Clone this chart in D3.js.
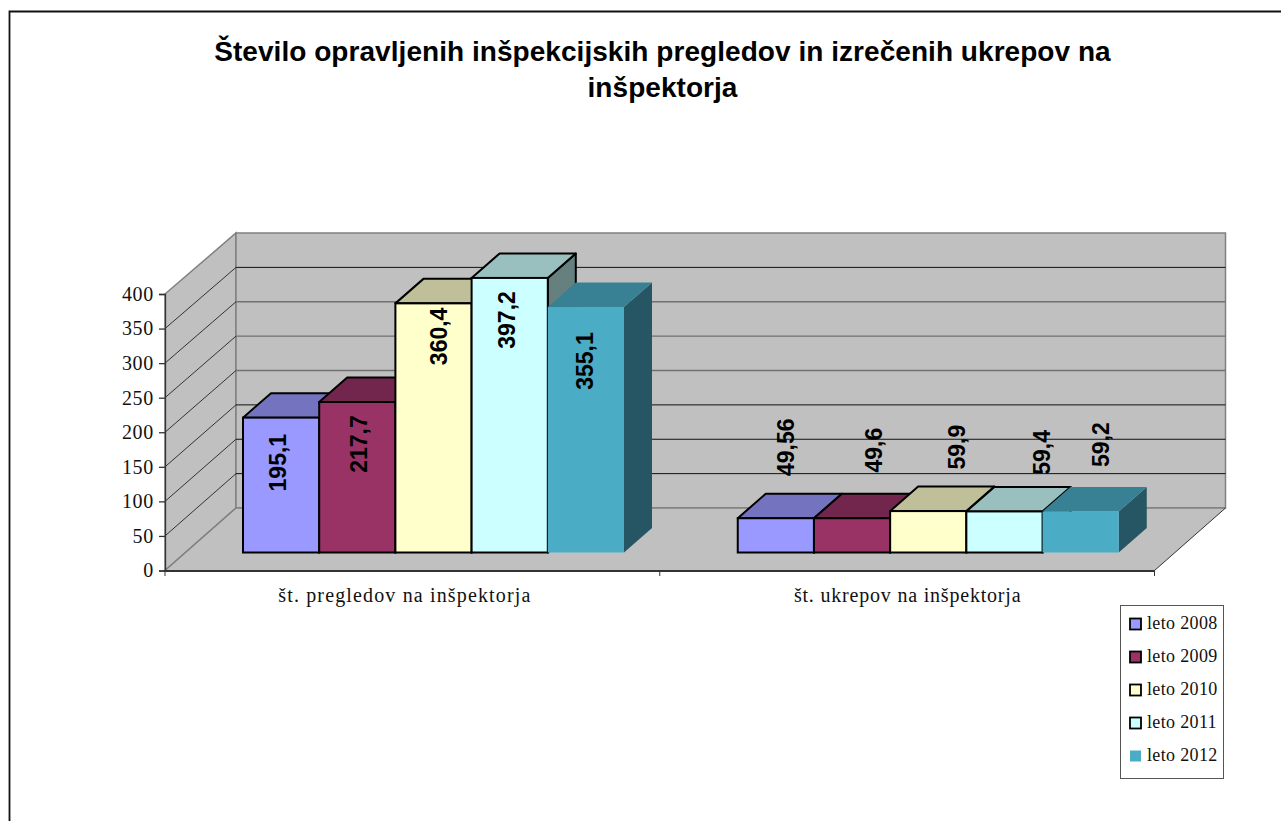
<!DOCTYPE html>
<html><head><meta charset="utf-8">
<script src="https://cdn.jsdelivr.net/npm/d3@7"></script>
<style>html,body{margin:0;padding:0;background:#fff}svg{display:block}</style></head>
<body><div id="c"></div>
<script>
// ---- data ----
const categories = ["št. pregledov na inšpektorja", "št. ukrepov na inšpektorja"];
const seriesNames = ["leto 2008", "leto 2009", "leto 2010", "leto 2011", "leto 2012"];
const pregledi = [195.1, 217.7, 360.4, 397.2, 355.1];
const ukrepi = [49.56, 49.6, 59.9, 59.4, 59.2];
const labelText = [["195,1","217,7","360,4","397,2","355,1"],["49,56","49,6","59,9","59,4","59,2"]];
const yTicks = [0,50,100,150,200,250,300,350,400];
const titleLines = ["Število opravljenih inšpekcijskih pregledov in izrečenih ukrepov na","inšpektorja"];
const colors = ["#9999FF","#993366","#FFFFCC","#CCFFFF","#4BACC6"];

// ---- layout ----
const W=1281,H=821;
const frontLeft=165, frontRight=1154.5, front0=570.5, front400=294;
const backDx=71, back0=508, back400=233;
const barDx=28, barDy=-24.5, barBase=552.5;
const grayGrid=[200,250,300];
// hand-placed data labels in the source chart: centre relative to bar left / bar top
const labelDx=[[35,40,44,35,37],[48,60,67,76,58]];
const labelDy=[[45,42,33,42,54],[-71,-68,-64,-59,-67]];
const catLabelDx=[-7.5,0.5];
const catLabelSpacing=[1.15,0.8];

const svg=d3.select("#c").append("svg").attr("width",W).attr("height",H);
// chart frame: only its top and left edges are inside the picture
svg.append("path").attr("d",`M9.5,${H}V11.5H${W}`).attr("fill","none").attr("stroke","#111").attr("stroke-width",1.8);

const y=d3.scaleLinear().domain([0,400]).range([front0,front400]);
const yBack=d3.scaleLinear().domain([0,400]).range([back0,back400]);
const x0=d3.scaleBand().domain(categories).range([frontLeft,frontRight]);
const x1=d3.scaleBand().domain(seriesNames).range([78,459]);
const pts=a=>a.map(p=>p.join(",")).join(" ");
const bl=frontLeft+backDx, br=frontRight+backDx;

// walls
const g=svg.append("g");
g.append("polygon").attr("fill","#C0C0C0").attr("stroke","#808080").attr("stroke-width",1.5)
  .attr("points",pts([[frontLeft,y(0)],[bl,yBack(0)],[bl,yBack(400)],[frontLeft,y(400)]]));
g.append("polygon").attr("fill","#C0C0C0").attr("stroke","#808080").attr("stroke-width",1.5)
  .attr("points",pts([[bl,yBack(0)],[br,yBack(0)],[br,yBack(400)],[bl,yBack(400)]]));
g.append("polygon").attr("fill","#C0C0C0")
  .attr("points",pts([[frontLeft,y(0)],[bl,yBack(0)],[br,yBack(0)],[frontRight,y(0)]]));
// floor edges
g.append("line").attr("x1",frontLeft).attr("y1",y(0)).attr("x2",bl).attr("y2",yBack(0)).attr("stroke","#808080").attr("stroke-width",1.5);
g.append("line").attr("x1",bl).attr("y1",yBack(0)).attr("x2",br).attr("y2",yBack(0)).attr("stroke","#808080").attr("stroke-width",1.5);
g.append("line").attr("x1",frontRight).attr("y1",y(0)).attr("x2",br).attr("y2",yBack(0)).attr("stroke","#333");

// gridlines
yTicks.filter(t=>t>0&&t<400).forEach(t=>{
  g.append("line").attr("x1",frontLeft).attr("y1",y(t)).attr("x2",bl).attr("y2",yBack(t)).attr("stroke","#222").attr("stroke-width",.9);
  g.append("line").attr("x1",bl).attr("y1",yBack(t)).attr("x2",br).attr("y2",yBack(t))
    .attr("stroke",grayGrid.includes(t)?"#707070":"#111").attr("stroke-width",grayGrid.includes(t)?1.3:1);
});

// axes
const yAxis=d3.axisLeft(y).tickValues(yTicks).tickSize(6).tickPadding(5).tickFormat(d3.format("d"));
const ga=svg.append("g").attr("transform",`translate(${frontLeft},0)`).call(yAxis);
ga.selectAll("path,line").attr("stroke","#333").attr("stroke-width",1.3);
ga.selectAll("text").attr("font-family","'Liberation Serif',serif").attr("font-size",20).attr("letter-spacing",0.7).attr("fill","#111");
const xAxis=d3.axisBottom(x0).tickSize(0).tickPadding(0);
const gx=svg.append("g").attr("transform",`translate(0,${front0})`).call(xAxis);
gx.select("path").attr("stroke","#333").attr("stroke-width",2);
gx.selectAll("text").attr("font-family","'Liberation Serif',serif").attr("font-size",20).attr("letter-spacing",(d,i)=>catLabelSpacing[i]).attr("fill","#111")
  .attr("y",17).attr("dy","0.71em").attr("dx",(d,i)=>catLabelDx[i]);
[frontLeft,(frontLeft+frontRight)/2,frontRight].forEach(v=>svg.append("line").attr("x1",v).attr("x2",v).attr("y1",front0).attr("y2",front0+5.5).attr("stroke","#333"));

// bars
const shade=(c,k)=>{const r=d3.rgb(c);return d3.rgb(r.r*k,r.g*k,r.b*k).formatHex();};
[pregledi,ukrepi].forEach((vals,ci)=>{
  const gb=svg.append("g").attr("transform",`translate(${x0(categories[ci])},0)`);
  vals.forEach((v,i)=>{
    const l=x1(seriesNames[i]), r=l+x1.bandwidth(), t=barBase-(y(0)-y(v));
    const last=i===4, st=last?"none":"#000", sw=last?0:2;
    gb.append("polygon").attr("fill",shade(colors[i],.5)).attr("stroke",st).attr("stroke-width",sw).attr("stroke-linejoin","round")
      .attr("points",pts([[r,t],[r+barDx,t+barDy],[r+barDx,barBase+barDy],[r,barBase]]));
    gb.append("polygon").attr("fill",shade(colors[i],.75)).attr("stroke",st).attr("stroke-width",sw).attr("stroke-linejoin","round")
      .attr("points",pts([[l,t],[l+barDx,t+barDy],[r+barDx,t+barDy],[r,t]]));
    gb.append("rect").attr("x",l).attr("y",t).attr("width",r-l).attr("height",barBase-t).attr("fill",colors[i]).attr("stroke",st).attr("stroke-width",sw);
  });
});
// data labels
[pregledi,ukrepi].forEach((vals,ci)=>{
  vals.forEach((v,i)=>{
    const lx=x0(categories[ci])+x1(seriesNames[i])+labelDx[ci][i], ly=barBase-(y(0)-y(v))+labelDy[ci][i];
    svg.append("text").attr("transform",`translate(${lx},${ly}) rotate(-90)`).attr("text-anchor","middle").attr("dominant-baseline","central")
      .attr("font-family","'Liberation Sans',sans-serif").attr("font-weight","bold").attr("font-size",23).attr("fill","#000").text(labelText[ci][i]);
  });
});

// title
titleLines.forEach((s,i)=>svg.append("text").attr("x",662.5).attr("y",61+i*36).attr("text-anchor","middle")
  .attr("font-family","'Liberation Sans',sans-serif").attr("font-weight","bold").attr("font-size",28).attr("letter-spacing",0.05).attr("fill","#000").text(s));

// legend
svg.append("rect").attr("x",1120.5).attr("y",605.5).attr("width",103).attr("height",173).attr("fill","#fff").attr("stroke","#555").attr("stroke-width",1);
const legY=d3.scalePoint().domain(seriesNames).range([624,756]);
seriesNames.forEach((s,i)=>{
  const last=i===4,cy=legY(s);
  svg.append("rect").attr("x",1130).attr("y",cy-5.5).attr("width",11).attr("height",11).attr("fill",colors[i]).attr("stroke",last?"none":"#000").attr("stroke-width",1.8);
  svg.append("text").attr("x",1147).attr("y",cy+4.5).attr("font-family","'Liberation Serif',serif").attr("font-size",18).attr("letter-spacing",0.35).attr("fill","#111").text(s);
});
</script></body></html>
